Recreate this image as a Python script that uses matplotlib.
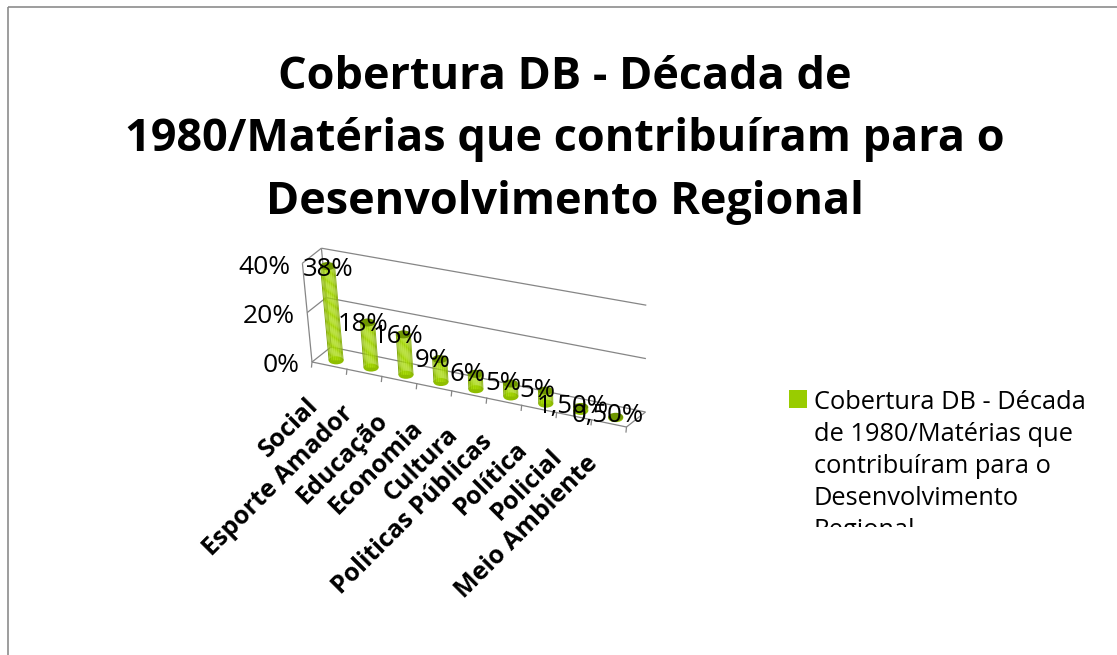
import numpy as np
import matplotlib
matplotlib.use('Agg')
import matplotlib.pyplot as plt
from matplotlib.patches import Rectangle, Ellipse

categorias = ['Social', 'Esporte Amador', 'Educação', 'Economia', 'Cultura',
              'Politicas Públicas', 'Política', 'Policial', 'Meio Ambiente']
valores = [38, 18, 16, 9, 6, 5, 5, 1.5, 0.5]
rotulos = ['38%', '18%', '16%', '9%', '6%', '5%', '5%', '1,50%', '0,50%']
ticks_y = [0, 20, 40]
titulo = ['Cobertura DB - Década de',
          '1980/Matérias que contribuíram para o',
          'Desenvolvimento Regional']
legenda = ['Cobertura DB - Década', 'de 1980/Matérias que', 'contribuíram para o',
           'Desenvolvimento', 'Regional']

plt.rcParams['font.family'] = ['Open Sans', 'DejaVu Sans']
VERDE = '#99cc00'
CINZA = '#868686'

fig = plt.figure(figsize=(11.17, 6.55), dpi=100)
ax = fig.add_axes([0, 0, 1, 1])
ax.set_xlim(0, 1117)
ax.set_ylim(655, 0)
ax.axis('off')

n = len(categorias)

# projecao obliqua do grafico 3D: categoria, valor e profundidade (0 a 1) -> pixels
def proj(c, v, d=0.0):
    t = c / n
    x = 312 + 314.5 * t - 0.24 * v * (1 - t) + 0.02 * v * t + 19 * d
    y = 362 + 65 * t - 15 * d - v * (2.47 + 0.2 * t)
    return x, y

def linha(p0, p1, **kw):
    ax.plot([p0[0], p1[0]], [p0[1], p1[1]], color=CINZA, lw=0.9, solid_capstyle='butt', **kw)

# borda
ax.add_patch(Rectangle((8, 7), 1200, 700, fill=False, ec='#8c8c8c', lw=1.2))

# paredes e grades
for v in ticks_y:
    linha(proj(0, v), proj(0, v, 1))
    linha(proj(0, v, 1), proj(n, v, 1))
linha(proj(0, 0), proj(0, 40))
linha(proj(0, 0, 1), proj(0, 40, 1))
linha(proj(0, 0), proj(n, 0))
linha(proj(n, 0), proj(n, 0, 1))
for i in range(n + 1):
    p = proj(i, 0)
    ax.plot([p[0], p[0] - 0.5], [p[1], p[1] + 5], color=CINZA, lw=0.9)

# cilindros
escuro = np.array(matplotlib.colors.to_rgb('#749a00'))
claro = np.array(matplotlib.colors.to_rgb('#9ed000'))
faixas = np.linspace(-1, 1, 17)
for i, v in enumerate(valores):
    c = i + 0.5
    x0, y0 = proj(c, 0, 0.35)
    x1, y1 = proj(c, v, 0.35)
    larg = 7.5
    for a, b in zip(faixas[:-1], faixas[1:]):
        m = (a + b) / 2
        br = 1 - abs(m) ** 3
        risco = 0.06 if int((m + 1) * 8) % 2 else 0
        cor = np.clip(escuro * (1 - br) + claro * br + risco, 0, 1)
        ax.fill([x0 + a * larg, x0 + b * larg, x1 + b * larg, x1 + a * larg],
                [y0, y0, y1, y1], color=cor, lw=0, zorder=3)
    ax.add_patch(Ellipse((x0, y0), 2 * larg, 8, fc='#8fbe00', ec='none', zorder=2.9))
    ax.add_patch(Ellipse((x1, y1), 2 * larg, 8, fc='#6f9600', ec='none', zorder=3.1))

# rotulos dos dados
for i, (v, r) in enumerate(zip(valores, rotulos)):
    x, y = proj(i + 0.5, v, 0.35)
    xb = proj(i + 0.5, 0, 0.35)[0]
    ax.text(xb - 8, y + 3 - 5 * i / n, r, fontsize=18.5, ha='center', va='center', color='black', zorder=5)

# eixo de valores
for v in ticks_y:
    x, y = proj(0, v)
    ax.text(x - 12, y + 4, f'{v}%', fontsize=19, ha='right', va='center', color='black')

# categorias
for i, nome in enumerate(categorias):
    x, y = proj(i + 0.5, 0)
    ax.text(x - 24, y + 28, nome, fontsize=18, fontweight='bold', rotation=45, rotation_mode='anchor',
            ha='right', va='top', color='black')

# titulo
for s, y in zip(titulo, [89, 151, 214]):
    ax.text(565, y, s, fontsize=32.4, fontweight='bold', ha='center', va='baseline', color='black')

# legenda
ax.add_patch(Rectangle((789, 390), 18, 18, fc=VERDE, ec='none'))
corte = Rectangle((780, 380), 330, 147, transform=ax.transData)
for s, y in zip(legenda, [409, 441, 473, 505, 537]):
    t = ax.text(814, y, s, fontsize=18.3, ha='left', va='baseline', color='black')
    t.set_clip_path(corte)
    t.set_clip_on(True)

fig.savefig('out.png', dpi=100)
